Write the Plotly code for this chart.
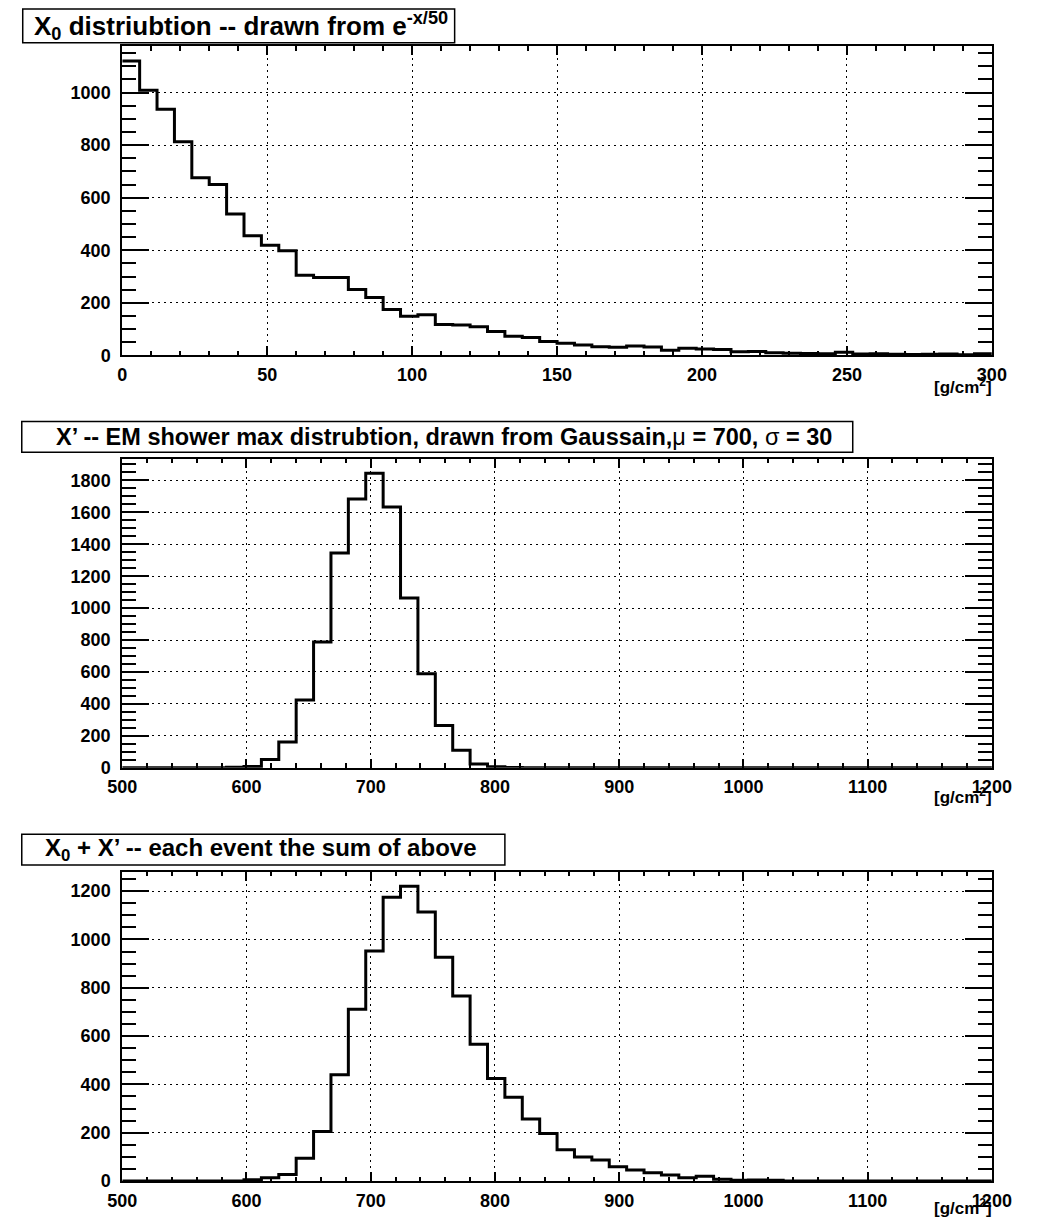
import plotly.graph_objects as go

# ---------------- data ----------------
# Panel 1: X0 distribution, 50 bins of 6 g/cm^2 from 0 to 300
x0_edges = list(range(0, 301, 6))
x0_counts = [1120, 1009, 937, 813, 676, 650, 538, 455, 419, 398,
             305, 296, 296, 251, 220, 175, 149, 155, 118, 116,
             109, 91, 73, 68, 53, 46, 40, 33, 31, 36,
             32, 20, 27, 24, 22, 14, 15, 10, 8, 7,
             6, 12, 5, 6, 4, 3, 4, 5, 2, 6]

# Panel 2: X' distribution, 50 bins of 14 g/cm^2 from 500 to 1200
xp_edges = list(range(500, 1201, 14))
xp_counts = [0, 0, 0, 0, 0, 0, 3, 8, 52, 161,
             424, 787, 1345, 1684, 1845, 1634, 1064, 589, 264, 110,
             23, 6, 2, 0, 0, 0, 0, 0, 0, 0,
             0, 0, 0, 0, 0, 0, 0, 0, 0, 0,
             0, 0, 0, 0, 0, 0, 0, 0, 0, 0]

# Panel 3: X0 + X', 50 bins of 14 g/cm^2 from 500 to 1200
sum_edges = list(range(500, 1201, 14))
sum_counts = [0, 0, 0, 0, 0, 0, 0, 5, 14, 27,
              94, 205, 440, 711, 952, 1175, 1220, 1114, 926, 766,
              566, 424, 347, 257, 197, 129, 99, 87, 59, 46,
              34, 25, 14, 20, 7, 3, 4, 3, 0, 0,
              0, 0, 0, 0, 0, 0, 0, 0, 0, 0]

titles = [
    "<b>X<sub>0</sub> distriubtion -- drawn from e<sup>-x/50</sup></b>",
    "<b>X’ -- EM shower max distrubtion, drawn from Gaussain,</b>μ<b> = 700, </b>σ<b> = 30</b>",
    "<b>X<sub>0</sub> + X’ -- each event the sum of above</b>",
]
x_title = "<b>[g/cm<sup>2</sup>]</b>"

# ---------------- layout helpers ----------------
W, H = 1037, 1231
FONT = "Liberation Sans, Arial, Helvetica, sans-serif"


def fx(p):
    return p / W


def fy(p):
    return 1 - p / H


PLOT_L, PLOT_R = 111, 1011

panels = [
    dict(edges=x0_edges, counts=x0_counts, xr=[0, 300], xdt=50, xmin=10,
         ydt=200, ymin=50, top=46.7, bot=358.3,
         box=(8, 9, 455, 43), tsize=26, tx=18, tyoff=0, unit_off=31),
    dict(edges=xp_edges, counts=xp_counts, xr=[500, 1200], xdt=100, xmin=20,
         ydt=200, ymin=50, top=462.3, bot=774.0,
         box=(7, 425, 867, 456), tsize=23.5, tx=40, tyoff=0, unit_off=29),
    dict(edges=sum_edges, counts=sum_counts, xr=[500, 1200], xdt=100, xmin=20,
         ydt=200, ymin=50, top=878.7, bot=1190.7,
         box=(7, 841, 507, 872), tsize=24, tx=29, tyoff=0, unit_off=26),
]

fig = go.Figure()
shapes = []
annotations = []

for i, p in enumerate(panels, start=1):
    xa = "x" if i == 1 else f"x{i}"
    ya = "y" if i == 1 else f"y{i}"
    ys = list(p["counts"]) + [p["counts"][-1]]
    fig.add_trace(go.Scatter(
        x=p["edges"], y=ys, mode="lines", line_shape="hv",
        line=dict(color="black", width=3),
        xaxis=xa, yaxis=ya, showlegend=False, hoverinfo="skip"))

    ymax = 1.05 * max(p["counts"])
    xkey = "xaxis" if i == 1 else f"xaxis{i}"
    ykey = "yaxis" if i == 1 else f"yaxis{i}"
    tickfont = dict(family=FONT, size=18, color="black", weight="bold")
    fig.update_layout(**{
        xkey: dict(
            domain=[fx(PLOT_L), fx(PLOT_R)], anchor=ya, range=p["xr"],
            tick0=p["xr"][0], dtick=p["xdt"], ticks="inside", ticklen=9,
            tickwidth=1.5, tickcolor="black", showline=True, linecolor="black",
            linewidth=2, mirror="allticks", showgrid=True, gridcolor="black",
            gridwidth=1, griddash="2px,4px", zeroline=False, tickfont=tickfont,
            ticklabelstandoff=2,
            minor=dict(ticks="inside", ticklen=4.5, tickwidth=1.5,
                       tickcolor="black", dtick=p["xmin"], showgrid=False),
        ),
        ykey: dict(
            domain=[fy(p["bot"]), fy(p["top"])], anchor=xa, range=[0, ymax],
            tick0=0, dtick=p["ydt"], ticks="inside", ticklen=27,
            tickwidth=1.5, tickcolor="black", showline=True, linecolor="black",
            linewidth=2, mirror="allticks", showgrid=True, gridcolor="black",
            gridwidth=1, griddash="2px,4px", zeroline=False, tickfont=tickfont,
            ticklabelstandoff=6,
            minor=dict(ticks="inside", ticklen=13.5, tickwidth=1.5,
                       tickcolor="black", dtick=p["ymin"], showgrid=False),
        ),
    })

    # title box
    x0b, y0b, x1b, y1b = p["box"]
    shapes.append(dict(type="rect", xref="paper", yref="paper",
                       x0=fx(x0b), x1=fx(x1b), y0=fy(y1b), y1=fy(y0b),
                       line=dict(color="black", width=1.5), fillcolor="white",
                       layer="above"))
    annotations.append(dict(
        text=titles[i - 1], xref="paper", yref="paper",
        x=fx(p["tx"]), y=fy((y0b + y1b) / 2 + p["tyoff"]),
        xanchor="left", yanchor="middle",
        showarrow=False, font=dict(family=FONT, size=p["tsize"], color="black")))
    # axis title
    annotations.append(dict(
        text=x_title, xref="paper", yref="paper",
        x=fx(PLOT_R + 2), y=fy(p["bot"] + p["unit_off"]),
        xanchor="right", yanchor="middle",
        showarrow=False, font=dict(family=FONT, size=17, color="black")))

fig.update_layout(
    width=W, height=H, margin=dict(l=0, r=0, t=0, b=0),
    paper_bgcolor="white", plot_bgcolor="white",
    shapes=shapes, annotations=annotations,
)

fig.write_html("out.html")
